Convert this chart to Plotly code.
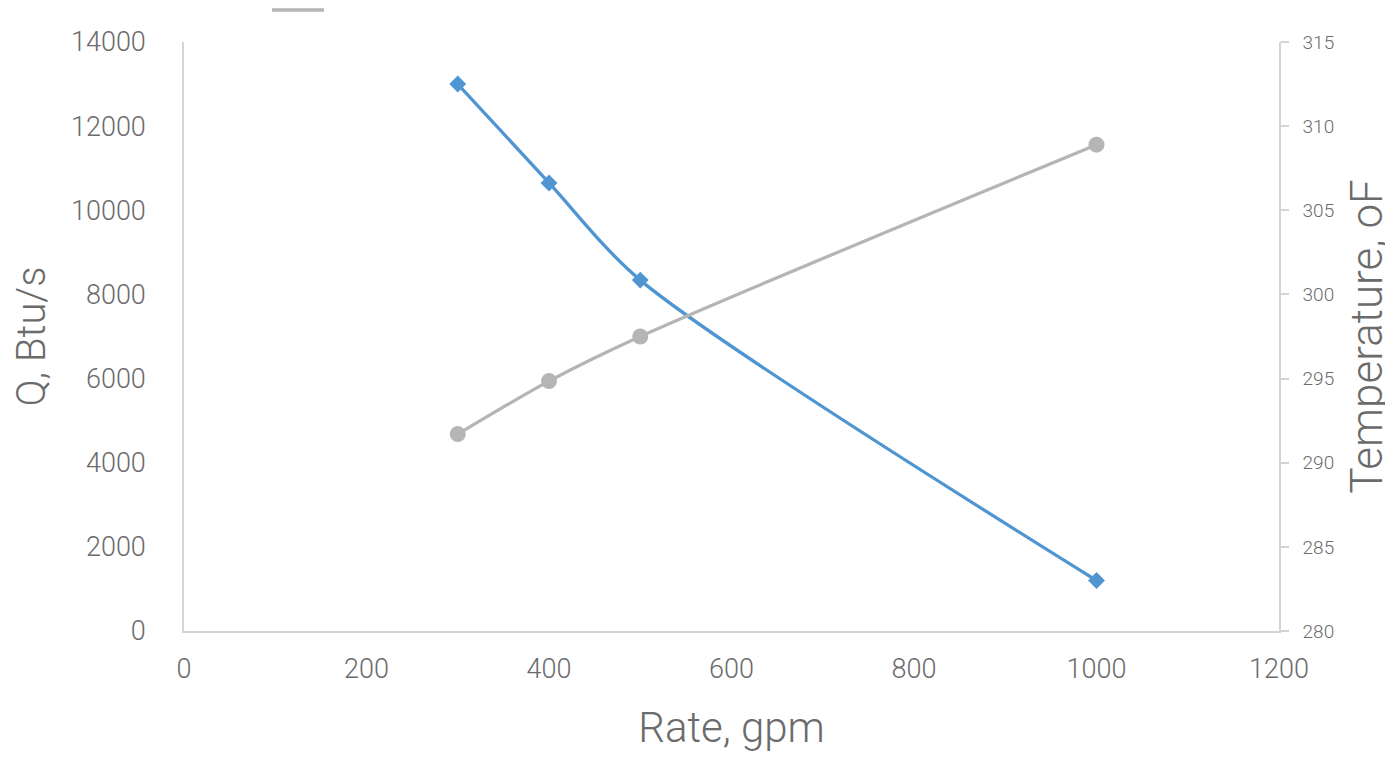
import plotly.graph_objects as go

rate = [300, 400, 500, 1000]
q_btu = [13000, 10650, 8340, 1200]
temp_f = [291.7, 294.85, 297.5, 308.9]

x_ticks = [0, 200, 400, 600, 800, 1000, 1200]
y_ticks = [0, 2000, 4000, 6000, 8000, 10000, 12000, 14000]
y2_ticks = [280, 285, 290, 295, 300, 305, 310, 315]

FONT = "Roboto"
TXT = "#6b6b6b"
AX = "#d4d4d4"

fig = go.Figure()
fig.add_trace(go.Scatter(
    x=rate, y=q_btu, mode="lines+markers",
    line=dict(color="#4f95d2", width=3.3, shape="spline", smoothing=0.8),
    marker=dict(symbol="diamond", size=13, color="#4f95d2"),
    showlegend=False, name="Q"))
fig.add_trace(go.Scatter(
    x=rate, y=temp_f, mode="lines+markers", yaxis="y2",
    line=dict(color="#b5b5b5", width=3.3, shape="spline", smoothing=0.8),
    marker=dict(symbol="circle", size=16, color="#b5b5b5"),
    showlegend=False, name="Temperature"))

# legend fragment at top
fig.add_shape(type="line", xref="paper", yref="paper",
              x0=(272 - 184) / 1095, x1=(324 - 184) / 1095,
              y0=1 + (42 - 10) / 589, y1=1 + (42 - 10) / 589,
              line=dict(color="#b5b5b5", width=3.5))

fig.update_layout(
    width=1393, height=758,
    margin=dict(l=176, r=122, t=34, b=135, autoexpand=False),
    paper_bgcolor="white", plot_bgcolor="white",
    font=dict(family=FONT, color=TXT, weight=300),
    xaxis=dict(range=[0, 1200], tickvals=x_ticks, ticktext=[str(v) for v in x_ticks],
               showgrid=False, zeroline=False,
               showline=True, linecolor=AX, linewidth=1.5, ticks="",
               tickfont=dict(size=27, family=FONT, color=TXT, weight=300),
               ticklabelstandoff=13,
               title=dict(text="Rate, gpm", font=dict(size=42, family=FONT, color=TXT, weight=300),
                          standoff=28)),
    yaxis=dict(range=[0, 14000], tickvals=y_ticks, ticktext=[str(v) for v in y_ticks],
               showgrid=False, zeroline=False,
               showline=True, linecolor=AX, linewidth=1.5, ticks="",
               tickfont=dict(size=27, family=FONT, color=TXT, weight=300),
               ticklabelstandoff=31,
               title=dict(text="Q, Btu/s", font=dict(size=40, family=FONT, color=TXT, weight=300),
                          standoff=22)),
    yaxis2=dict(range=[280, 315], tickvals=y2_ticks, ticktext=[str(v) for v in y2_ticks],
                overlaying="y", side="right",
                showgrid=False, zeroline=False, showline=True, linecolor=AX, linewidth=1.5,
                ticks="outside", ticklen=8, tickcolor=AX, tickwidth=1.5,
                tickfont=dict(size=19, family=FONT, color=TXT, weight=300),
                ticklabelstandoff=10,
                title=dict(text="Temperature, oF", font=dict(size=44, family=FONT, color=TXT, weight=300),
                           standoff=18)),
)

fig.write_html("out.html")
